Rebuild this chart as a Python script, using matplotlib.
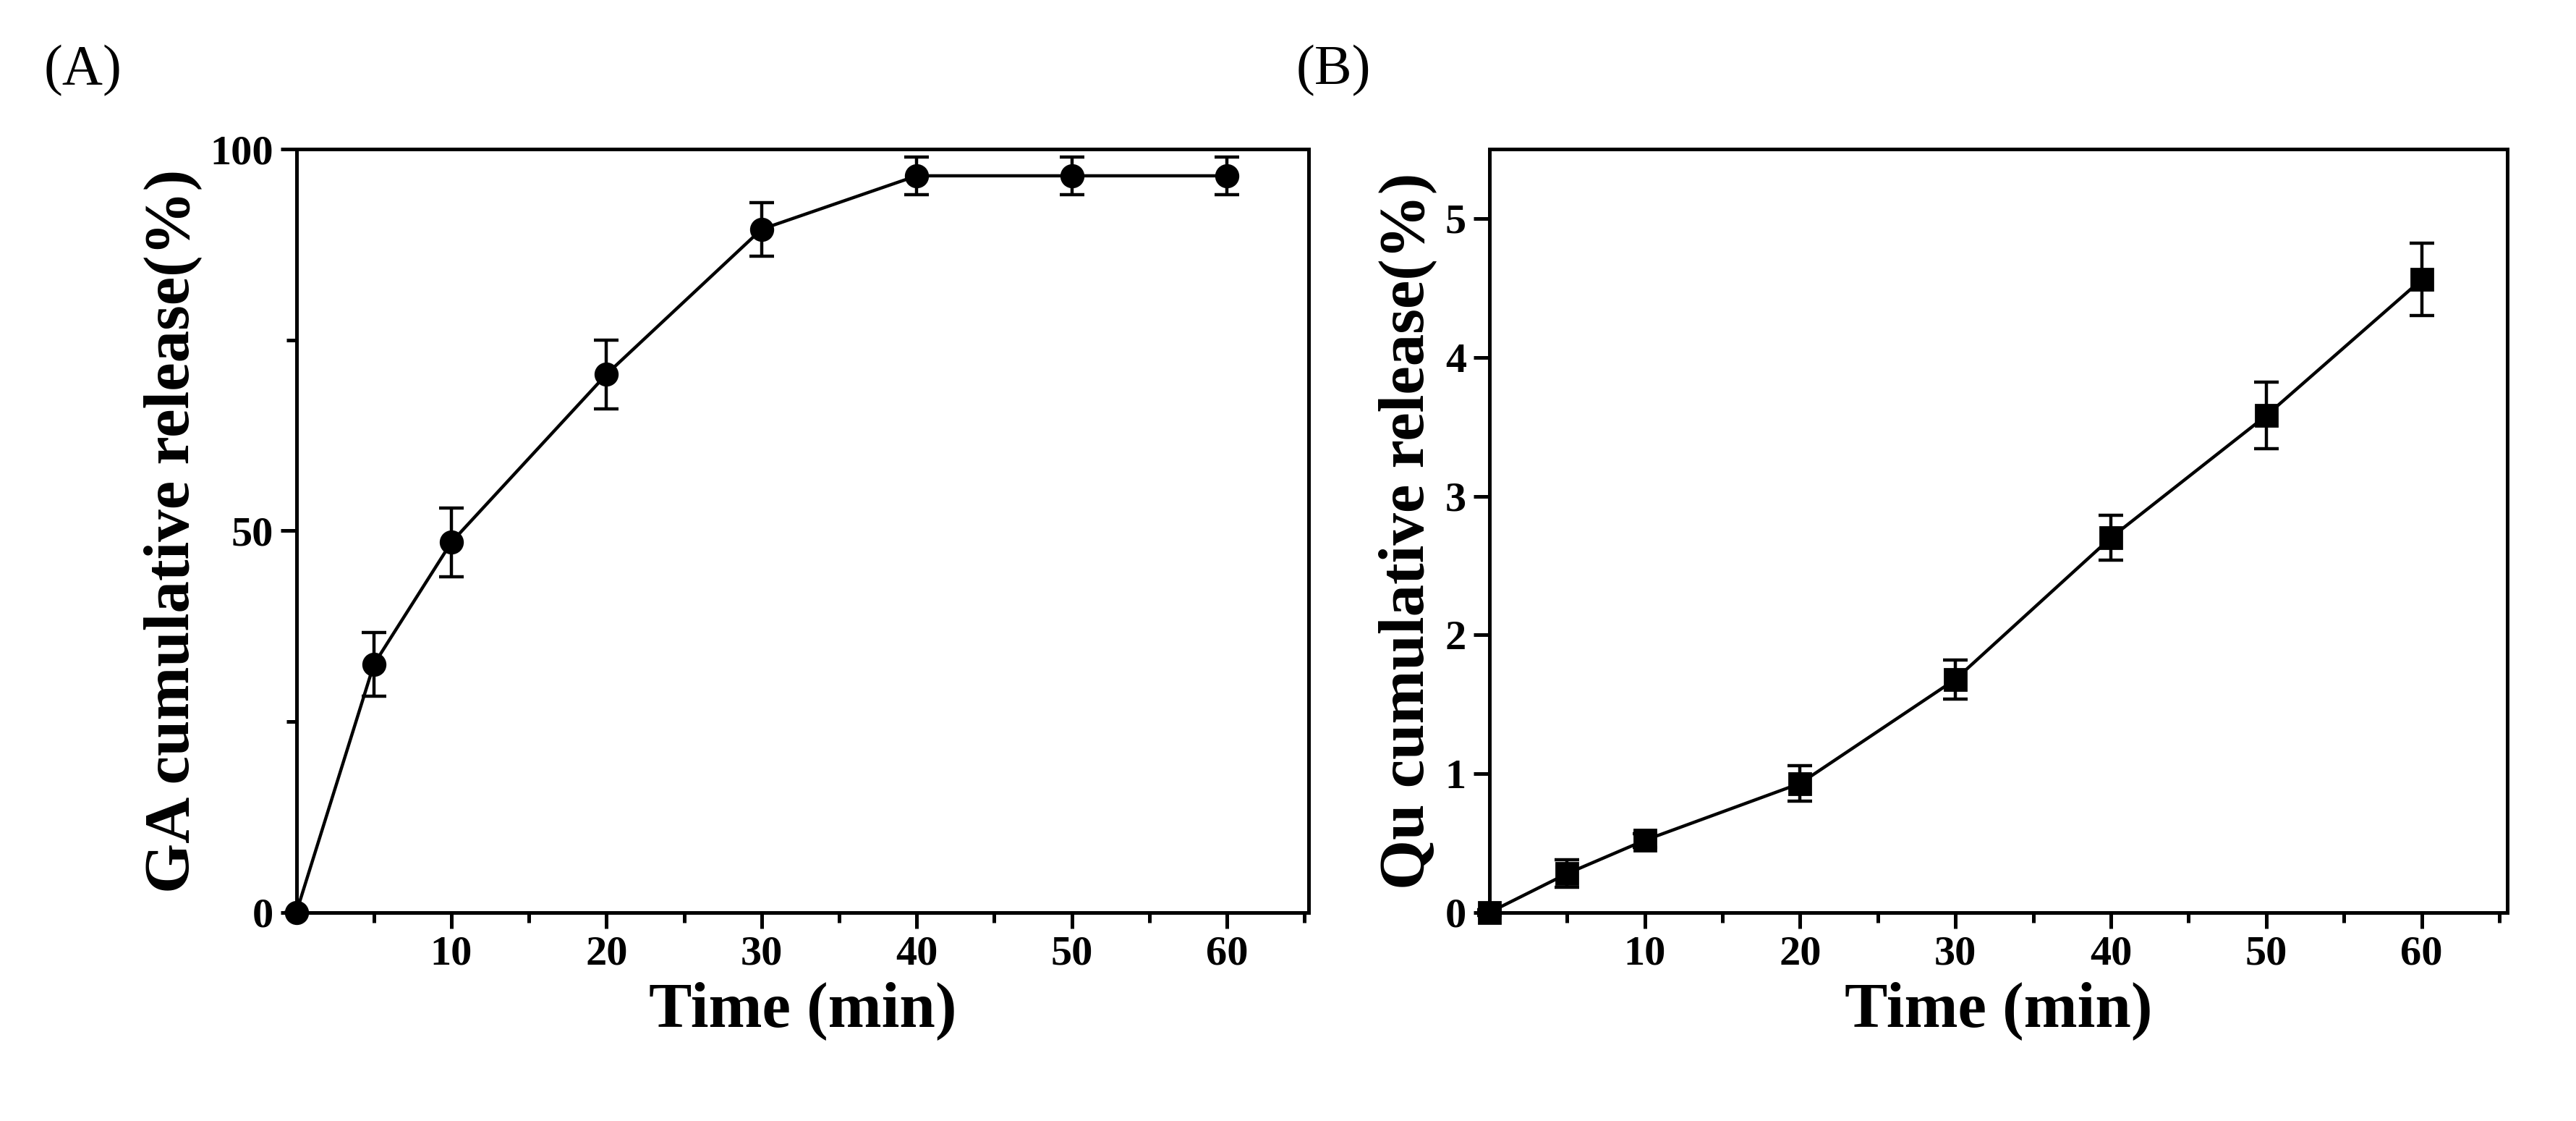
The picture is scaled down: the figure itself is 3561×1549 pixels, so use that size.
import matplotlib
matplotlib.use("Agg")
import matplotlib.pyplot as plt
from matplotlib.ticker import MultipleLocator

plt.rcParams['font.family'] = ['Liberation Serif', 'DejaVu Serif']

time = [0, 5, 10, 20, 30, 40, 50, 60]
ga = [0, 32.5, 48.5, 70.5, 89.5, 96.5, 96.5, 96.5]
ga_err = [0, 4.2, 4.5, 4.5, 3.5, 2.5, 2.5, 2.5]
qu = [0, 0.28, 0.52, 0.93, 1.68, 2.70, 3.58, 4.56]
qu_err = [0.02, 0.10, 0.05, 0.13, 0.14, 0.16, 0.24, 0.26]

fig = plt.figure(figsize=(17.81, 7.745), dpi=200)
axA = fig.add_axes([0.115, 0.186, 0.393, 0.681])
axB = fig.add_axes([0.578, 0.186, 0.395, 0.681])

def style(ax):
    for s in ax.spines.values():
        s.set_linewidth(1.8)
    ax.tick_params(which='both', direction='out', width=1.8, labelsize=21)
    ax.tick_params(which='major', length=8)
    ax.tick_params(which='minor', length=5)
    for lab in ax.get_xticklabels() + ax.get_yticklabels():
        lab.set_fontweight('bold')
    ax.set_xlabel('Time (min)', fontsize=32, fontweight='bold')

for ax, y, e, m in [(axA, ga, ga_err, 'o'), (axB, qu, qu_err, 's')]:
    c = ax.errorbar(time, y, yerr=e, color='black', marker=m, ms=11, lw=1.6,
                    capsize=6, elinewidth=1.6, capthick=1.6)
    for art in c.get_children():
        art.set_clip_on(False)

axA.set_xlim(0, 65.3)
axA.set_ylim(0, 100)
axA.set_xticks([10, 20, 30, 40, 50, 60])
axA.xaxis.set_minor_locator(MultipleLocator(5))
axA.set_yticks([0, 50, 100])
axA.yaxis.set_minor_locator(MultipleLocator(25))
axA.set_ylabel('GA cumulative release(%)', fontsize=32, fontweight='bold')
style(axA)

axB.set_xlim(0, 65.5)
axB.set_ylim(0, 5.5)
axB.set_xticks([10, 20, 30, 40, 50, 60])
axB.xaxis.set_minor_locator(MultipleLocator(5))
axB.set_yticks([0, 1, 2, 3, 4, 5])
axB.set_ylabel('Qu cumulative release(%)', fontsize=32, fontweight='bold')
style(axB)

fig.text(0.017, 0.925, '(A)', fontsize=28)
fig.text(0.503, 0.925, '(B)', fontsize=28)

fig.savefig('out.png', dpi=200)
